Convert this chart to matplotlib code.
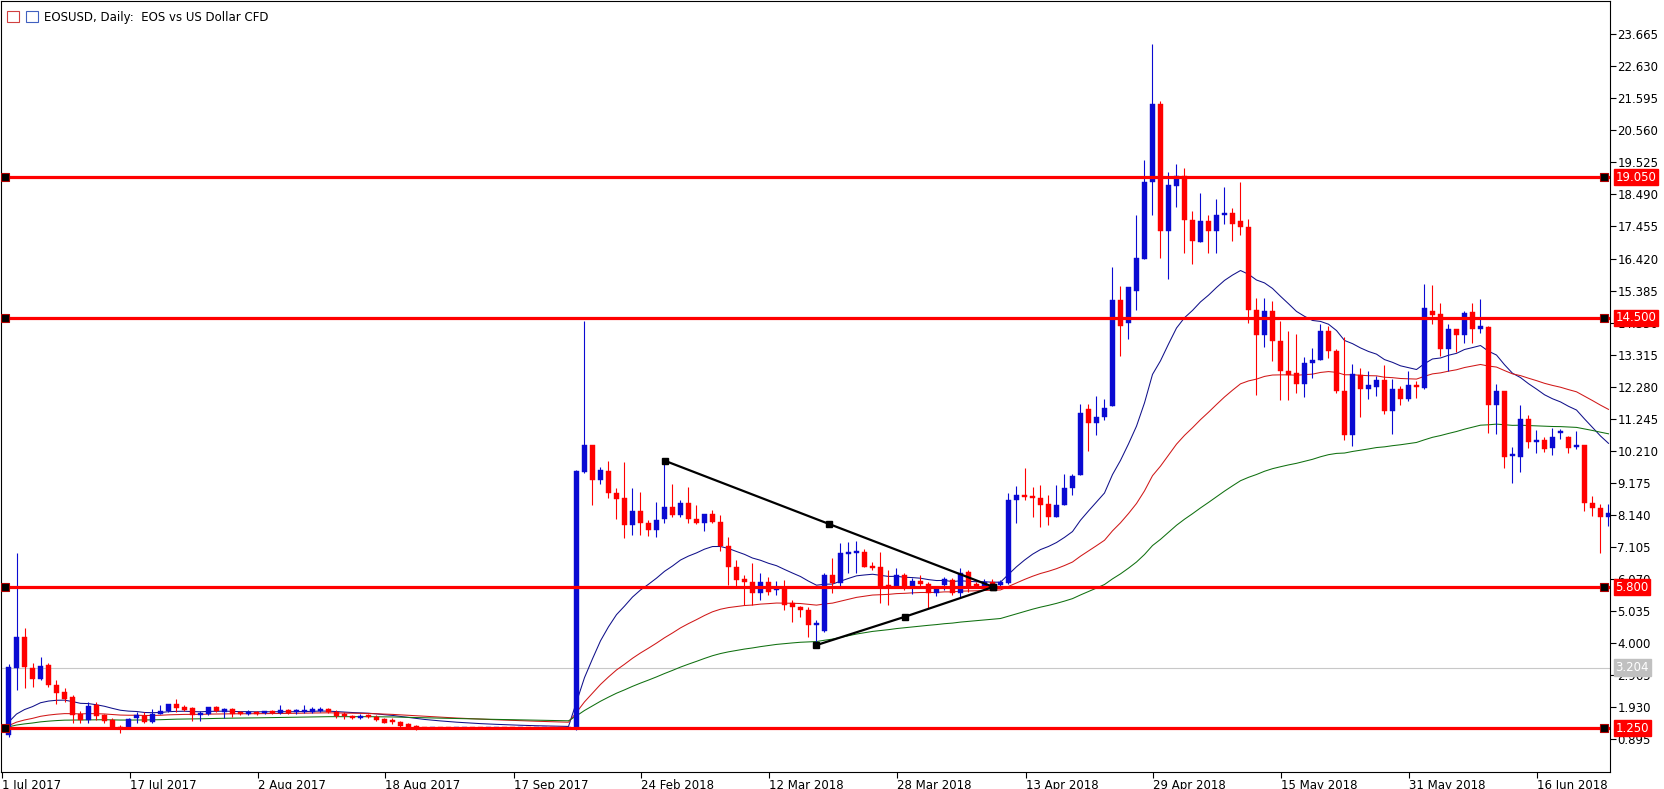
import numpy as np
import pandas as pd
import matplotlib
matplotlib.use("Agg")
import matplotlib.pyplot as plt
import matplotlib.transforms as mtransforms
from matplotlib.patches import Rectangle

opens = [1.02,3.18,4.20,3.18,2.82,3.29,2.64,2.41,2.26,1.70,1.51,1.99,1.67,1.51,1.29,1.29,1.59,1.64,1.45,1.72,
         1.80,2.03,1.94,1.89,1.67,1.70,1.92,1.78,1.85,1.78,1.70,1.78,1.76,1.80,1.75,1.83,1.78,1.78,1.78,1.80,
         1.85,1.78,1.72,1.64,1.59,1.64,1.62,1.53,1.49,1.45,1.37,1.31,
         1.26,1.25,1.27,1.26,1.25,1.26,1.27,1.26,1.25,1.26,1.27,1.26,1.25,1.26,1.25,1.26,1.27,1.26,1.25,
         1.25,9.53,10.39,9.26,9.56,8.83,8.67,7.81,8.26,7.88,7.65,8.00,8.40,8.13,8.51,8.02,7.88,8.18,7.92,7.13,
         6.44,6.05,5.98,5.62,5.98,5.73,5.76,5.28,5.17,5.08,4.58,4.40,6.19,5.95,6.89,6.93,6.95,6.48,6.44,5.87,
         5.84,6.19,5.84,6.00,5.90,5.62,5.87,6.03,5.62,6.30,5.90,5.84,5.96,5.87,5.93,8.62,8.78,8.74,8.67,8.48,
         8.07,8.45,9.02,9.42,11.55,11.11,11.31,11.64,15.09,14.33,15.38,16.42,18.90,21.41,17.30,18.76,19.09,17.67,16.94,17.63,
         17.30,17.84,17.89,17.62,17.43,14.77,13.96,14.74,13.75,12.80,12.72,12.35,13.05,13.15,14.09,13.44,12.15,10.73,12.67,12.22,
         12.26,12.51,11.48,12.22,11.89,12.33,12.24,14.72,14.63,13.51,14.13,13.94,14.69,14.13,14.20,11.68,12.13,10.03,10.01,11.25,
         10.50,10.55,10.30,10.79,10.66,10.34,10.38,8.51,8.35,8.06]
closes = [3.23,4.20,3.23,2.85,3.25,2.64,2.39,2.19,1.67,1.51,1.96,1.64,1.49,1.24,1.25,1.53,1.67,1.45,1.69,1.80,
          2.03,1.89,1.83,1.67,1.72,1.92,1.81,1.85,1.72,1.69,1.78,1.72,1.80,1.75,1.83,1.75,1.80,1.83,1.87,1.86,
          1.78,1.64,1.64,1.59,1.64,1.62,1.51,1.42,1.44,1.31,1.27,1.24,
          1.25,1.27,1.26,1.25,1.26,1.27,1.26,1.25,1.26,1.27,1.26,1.25,1.26,1.25,1.26,1.27,1.26,1.25,1.25,
          9.56,10.39,9.26,9.59,8.83,8.64,7.81,8.26,7.88,7.65,7.97,8.40,8.13,8.51,8.02,7.88,8.18,7.92,7.13,6.44,
          6.03,5.98,5.62,5.98,5.65,5.76,5.22,5.15,5.08,4.58,4.62,6.19,5.95,6.89,6.93,6.96,6.46,6.44,5.84,5.82,
          6.19,5.84,6.00,5.90,5.62,5.73,6.05,5.62,6.27,5.82,5.84,5.98,5.82,5.98,8.62,8.78,8.72,8.67,8.45,8.07,
          8.45,8.99,9.39,11.44,11.11,11.31,11.60,15.09,14.25,15.50,16.45,18.90,21.41,17.30,18.79,19.09,17.67,16.99,17.63,17.30,
          17.84,17.89,17.52,17.43,14.77,13.96,14.74,13.75,12.80,12.67,12.35,13.05,13.15,14.09,13.44,12.15,10.73,12.69,12.22,12.33,
          12.51,11.48,12.22,11.89,12.33,12.26,14.83,14.61,13.51,14.13,13.94,14.66,14.13,14.24,11.68,12.13,10.02,10.09,11.25,10.50,
          10.55,10.27,10.66,10.82,10.30,10.38,8.51,8.35,8.06,8.19]
highs = [3.31,6.92,4.47,3.34,3.55,3.34,2.80,2.53,2.32,1.81,2.10,2.10,1.72,1.56,1.35,1.59,1.78,1.78,1.85,1.99,
         2.03,2.18,1.99,1.94,1.81,1.94,1.96,1.89,1.89,1.81,1.83,1.81,1.81,1.83,1.99,1.85,1.85,1.99,1.94,1.94,
         1.89,1.83,1.78,1.67,1.70,1.69,1.67,1.56,1.56,1.49,1.42,1.35,
         1.27,1.28,1.28,1.27,1.27,1.28,1.28,1.27,1.27,1.28,1.28,1.27,1.27,1.27,1.27,1.28,1.28,1.27,1.26,
         9.60,14.40,10.39,9.67,9.89,8.99,9.86,8.99,8.89,7.97,8.56,9.86,9.15,8.62,9.03,8.45,8.18,8.29,8.13,7.43,
         6.68,6.19,6.57,6.27,6.14,6.01,6.03,5.39,5.20,5.15,4.74,6.27,6.76,7.22,7.27,7.30,7.05,6.62,6.95,6.35,
         6.41,6.27,6.09,6.19,5.98,5.80,6.14,6.09,6.41,6.35,5.98,6.05,6.05,6.03,8.83,9.06,9.66,9.04,9.10,8.78,
         9.10,9.47,9.47,11.71,11.71,11.98,11.88,16.13,15.53,15.50,17.81,19.59,23.34,21.52,19.20,19.48,19.34,17.97,18.54,17.84,
         18.35,18.73,18.06,18.90,17.71,15.15,15.15,15.04,14.40,14.09,13.97,13.23,13.53,14.31,14.24,13.51,13.87,13.02,12.88,12.77,
         12.62,12.99,12.53,12.30,12.77,12.45,15.60,15.58,14.99,14.31,14.15,14.72,14.99,15.10,14.24,12.38,12.13,10.34,11.69,11.36,
         10.87,10.66,10.95,10.90,10.70,10.85,10.40,8.75,8.48,8.48]
lows = [0.97,2.48,2.53,2.59,2.80,2.59,2.03,2.08,1.42,1.40,1.42,1.51,1.42,1.21,1.08,1.24,1.42,1.40,1.42,1.70,
        1.78,1.78,1.81,1.49,1.49,1.67,1.78,1.56,1.62,1.67,1.67,1.67,1.72,1.70,1.72,1.70,1.72,1.75,1.75,1.77,
        1.75,1.59,1.53,1.53,1.53,1.56,1.49,1.40,1.37,1.29,1.24,1.19,
        1.23,1.23,1.24,1.23,1.23,1.24,1.24,1.23,1.23,1.24,1.24,1.23,1.23,1.23,1.23,1.24,1.24,1.23,1.23,
        1.20,9.50,8.45,9.15,8.67,8.02,7.38,7.49,7.49,7.45,7.43,7.88,8.08,8.08,7.86,7.84,7.63,7.88,6.98,5.87,
        5.82,5.22,5.22,5.39,5.55,5.55,5.06,4.69,4.83,4.18,3.95,4.36,5.60,5.82,6.25,6.25,6.46,6.35,5.28,5.22,
        5.76,5.71,5.58,5.76,5.12,5.51,5.71,5.55,5.44,5.66,5.76,5.76,5.71,5.82,5.90,7.86,8.62,8.07,7.75,7.80,
        8.07,8.45,8.78,9.42,10.19,10.73,11.20,11.64,13.27,13.82,14.76,16.40,17.81,16.45,15.75,18.08,16.61,16.25,16.94,16.61,
        16.61,17.52,16.97,17.19,14.33,12.00,13.55,13.10,11.86,11.86,12.08,11.94,12.56,13.15,13.21,12.08,10.57,10.35,11.29,11.89,
        11.97,11.39,10.74,11.68,11.82,11.92,12.20,14.29,13.27,12.77,13.40,13.68,13.68,14.02,10.77,10.74,9.66,9.18,9.51,10.30,
        10.14,10.17,10.06,10.60,10.14,10.25,8.26,8.10,6.89,7.77]

date_labels = ["1 Jul 2017", "17 Jul 2017", "2 Aug 2017", "18 Aug 2017", "17 Sep 2017",
               "24 Feb 2018", "12 Mar 2018", "28 Mar 2018", "13 Apr 2018", "29 Apr 2018",
               "15 May 2018", "31 May 2018", "16 Jun 2018"]
price_ticks = [0.895, 1.930, 2.965, 4.000, 5.035, 6.070, 7.105, 8.140, 9.175, 10.210,
               11.245, 12.280, 13.315, 14.350, 15.385, 16.420, 17.455, 18.490, 19.525,
               20.560, 21.595, 22.630, 23.665]
levels = [19.05, 14.50, 5.80, 1.25]
current_price = 3.204
ema_periods = [20, 50, 100]
ema_seed = 1.25          # price level of the history before the first visible bar
ema_colors = ["#10108a", "#d01818", "#107010"]
upper_trend_x = [82.1, 102.6, 123.1]
upper_trend_y = [9.88, 7.84, 5.81]
lower_trend_x = [101.0, 112.1, 123.1]
lower_trend_y = [3.93, 4.85, 5.81]

W, H = 1664, 789
fig = plt.figure(figsize=(W/100, H/100), dpi=100)
ax = fig.add_axes([0.5/W, 17/H, 1610/W, (H-18)/H])
n = len(closes)
idx = np.arange(n)
ax.set_xlim(-1, 200.25)
ax.set_ylim(-0.17, 24.74)

BLUE = "#0a0ad2"
RED = "#ff0000"

# EMAs (seeded with the prior price level)
cs = pd.Series([ema_seed] + closes)
for p, c in zip(ema_periods, ema_colors):
    ema = cs.ewm(span=p, adjust=False).mean().values[1:]
    ax.plot(idx, ema, color=c, lw=0.75, zorder=2)

# candles
for i in range(n):
    o, c, h, l = opens[i], closes[i], highs[i], lows[i]
    col = BLUE if c >= o else RED
    ax.vlines(i, l, h, color=col, lw=0.8, zorder=3)
    lo, hi = min(o, c), max(o, c)
    if hi - lo < 0.06:
        lo, hi = (lo+hi)/2 - 0.03, (lo+hi)/2 + 0.03
    ax.add_patch(Rectangle((i-0.32, lo), 0.64, hi-lo, facecolor=col, edgecolor=col, lw=0.3, zorder=4))

# current price line
ax.axhline(current_price, color="#c8c8c8", lw=0.8, zorder=1)

# horizontal levels
for lv in levels:
    ax.axhline(lv, color=RED, lw=2.3, zorder=5)
    ax.plot([-0.4, 199.4], [lv, lv], ls="none", marker="s", ms=5.5, mfc="black", mec="#b00000", mew=0.8, zorder=6)

# trendlines
for xs, ys in ((upper_trend_x, upper_trend_y), (lower_trend_x, lower_trend_y)):
    ax.plot(xs, ys, color="black", lw=1.6, marker="s", ms=5, zorder=6)

# axes styling
for s in ax.spines.values():
    s.set_color("black"); s.set_linewidth(0.8)
ax.yaxis.tick_right()
ax.set_yticks(price_ticks)
ax.set_yticklabels([f"{v:.3f}" for v in price_ticks])
ax.tick_params(axis="y", direction="out", length=4, width=0.8, labelsize=8.5, pad=1)
xt = [16*k - 0.875 for k in range(len(date_labels))]
ax.set_xticks(xt)
ax.set_xticklabels(date_labels, ha="left")
ax.tick_params(axis="x", direction="out", length=4, width=0.8, labelsize=8.5, pad=1)

trans = mtransforms.blended_transform_factory(ax.transAxes, ax.transData)
for lv in levels:
    ax.text(1.003, lv, f"{lv:.3f}", transform=trans, ha="left", va="center", fontsize=8.5,
            color="white", bbox=dict(boxstyle="square,pad=0.15", fc=RED, ec=RED), zorder=10, clip_on=False)
ax.text(1.003, current_price, f"{current_price:.3f}", transform=trans, ha="left", va="center", fontsize=8.5,
        color="white", bbox=dict(boxstyle="square,pad=0.15", fc="#c0c0c0", ec="#c0c0c0"), zorder=10, clip_on=False)

# title with icons
fig.patches.append(Rectangle((7/W, 1-22/H), 12/W, 11/H, transform=fig.transFigure, fc="white", ec="#d04040", lw=0.8))
fig.patches.append(Rectangle((26/W, 1-22/H), 12/W, 11/H, transform=fig.transFigure, fc="white", ec="#4060c0", lw=0.8))
fig.text(44/W, 1-17/H, "EOSUSD, Daily:  EOS vs US Dollar CFD", fontsize=8.5, va="center", ha="left")

fig.savefig("out.png", dpi=100, facecolor="white")
